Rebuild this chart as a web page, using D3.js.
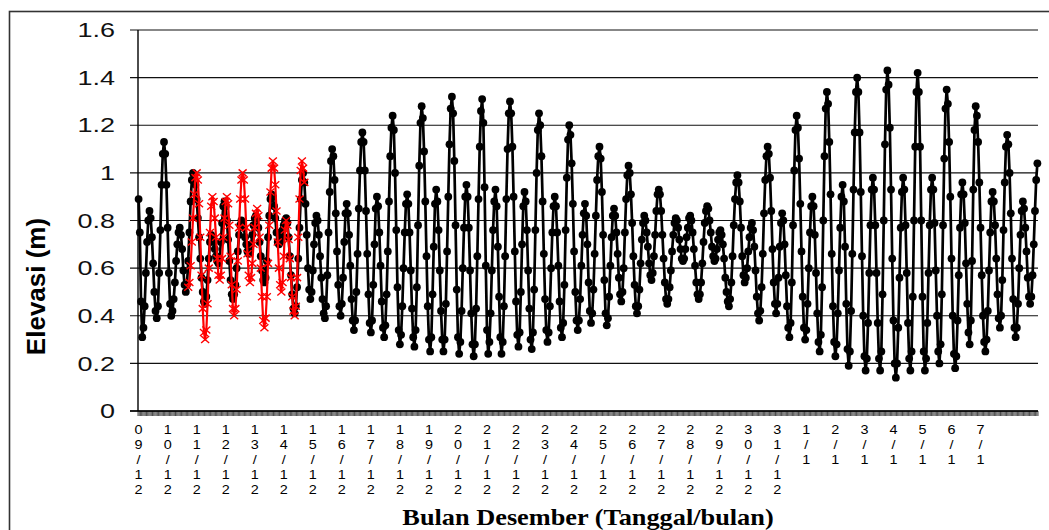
<!DOCTYPE html>
<html>
<head>
<meta charset="utf-8">
<script src="https://cdn.jsdelivr.net/npm/d3@7/dist/d3.min.js"></script>
<style>
    body { margin: 0; background: #fff; }
</style>
</head>
<body>
<div id="chart"></div>
<script>
// elevasi per jam (m), mulai 09/12 jam 00
let elevasi = [
    0.89,0.75,0.46,0.31,0.35,0.44,0.58,0.71,0.80,0.84,0.81,0.73,0.62,0.50,0.42,0.39,0.44,0.58,0.76,0.95,1.08,1.13,1.08,0.95,
    0.77,0.58,0.45,0.40,0.42,0.47,0.54,0.63,0.70,0.75,0.77,0.74,0.68,0.59,0.53,0.50,0.53,0.63,0.75,0.88,0.97,1.00,0.99,0.95,
    0.89,0.81,0.73,0.64,0.56,0.50,0.46,0.45,0.48,0.55,0.64,0.71,0.74,0.73,0.71,0.68,0.65,0.63,0.62,0.64,0.71,0.79,0.86,0.88,
    0.86,0.80,0.72,0.63,0.55,0.49,0.47,0.49,0.53,0.60,0.67,0.74,0.78,0.80,0.79,0.77,0.73,0.70,0.67,0.66,0.67,0.70,0.74,0.78,
    0.81,0.82,0.81,0.77,0.71,0.65,0.59,0.55,0.54,0.56,0.63,0.73,0.82,0.89,0.91,0.90,0.86,0.81,0.75,0.71,0.70,0.71,0.73,0.76,
    0.78,0.80,0.81,0.79,0.73,0.65,0.57,0.49,0.43,0.41,0.44,0.52,0.64,0.77,0.89,0.97,1.00,0.96,0.87,0.74,0.60,0.51,0.47,0.50,
    0.59,0.70,0.79,0.82,0.80,0.74,0.65,0.56,0.47,0.41,0.39,0.44,0.57,0.75,0.92,1.05,1.10,1.07,0.97,0.83,0.67,0.53,0.44,0.40,
    0.45,0.56,0.71,0.83,0.87,0.83,0.74,0.61,0.47,0.38,0.34,0.38,0.50,0.66,0.85,1.01,1.13,1.17,1.13,1.01,0.84,0.66,0.49,0.37,
    0.33,0.38,0.53,0.70,0.85,0.90,0.86,0.75,0.61,0.46,0.35,0.31,0.36,0.49,0.67,0.88,1.07,1.19,1.24,1.18,1.00,0.76,0.52,0.34,
    0.28,0.32,0.44,0.60,0.75,0.87,0.91,0.87,0.75,0.59,0.43,0.31,0.27,0.34,0.52,0.78,1.03,1.21,1.28,1.23,1.09,0.88,0.65,0.44,
    0.30,0.25,0.31,0.49,0.69,0.87,0.93,0.88,0.76,0.59,0.42,0.30,0.25,0.30,0.45,0.67,0.90,1.12,1.27,1.32,1.25,1.05,0.78,0.51,
    0.31,0.24,0.29,0.42,0.60,0.77,0.90,0.95,0.90,0.77,0.59,0.41,0.28,0.23,0.28,0.43,0.65,0.89,1.11,1.26,1.31,1.21,0.94,0.61,
    0.34,0.24,0.29,0.41,0.59,0.76,0.88,0.93,0.86,0.69,0.48,0.31,0.24,0.29,0.44,0.65,0.89,1.10,1.25,1.30,1.25,1.11,0.90,0.67,
    0.46,0.32,0.27,0.33,0.50,0.70,0.86,0.92,0.88,0.76,0.59,0.43,0.30,0.26,0.33,0.51,0.76,1.00,1.18,1.25,1.20,1.07,0.88,0.66,
    0.47,0.34,0.29,0.33,0.44,0.60,0.75,0.86,0.90,0.86,0.75,0.61,0.46,0.35,0.31,0.37,0.53,0.76,0.98,1.14,1.20,1.16,1.04,0.87,
    0.67,0.50,0.38,0.34,0.38,0.47,0.61,0.74,0.83,0.87,0.82,0.70,0.54,0.42,0.37,0.41,0.51,0.66,0.82,0.97,1.07,1.11,1.06,0.92,
    0.74,0.55,0.41,0.36,0.39,0.48,0.61,0.73,0.82,0.85,0.82,0.75,0.66,0.56,0.49,0.46,0.50,0.60,0.75,0.89,0.99,1.03,1.00,0.91,
    0.79,0.65,0.53,0.44,0.41,0.44,0.51,0.62,0.72,0.79,0.82,0.80,0.75,0.69,0.62,0.57,0.55,0.58,0.65,0.74,0.84,0.91,0.93,0.91,
    0.84,0.74,0.64,0.54,0.47,0.45,0.47,0.52,0.59,0.67,0.74,0.79,0.81,0.80,0.77,0.72,0.68,0.64,0.63,0.64,0.68,0.73,0.77,0.81,
    0.82,0.80,0.75,0.68,0.61,0.54,0.49,0.47,0.49,0.54,0.62,0.71,0.79,0.84,0.86,0.85,0.80,0.75,0.69,0.65,0.63,0.64,0.68,0.72,
    0.75,0.76,0.74,0.70,0.64,0.56,0.50,0.46,0.44,0.47,0.54,0.65,0.78,0.89,0.96,0.99,0.96,0.88,0.77,0.65,0.57,0.54,0.56,0.60,
    0.67,0.73,0.77,0.79,0.76,0.69,0.59,0.48,0.41,0.38,0.42,0.52,0.66,0.83,0.97,1.07,1.11,1.08,0.98,0.84,0.68,0.54,0.45,0.41,
    0.45,0.56,0.69,0.79,0.83,0.80,0.70,0.57,0.44,0.35,0.31,0.37,0.54,0.78,1.01,1.18,1.24,1.19,1.06,0.87,0.67,0.48,0.35,0.30,
    0.34,0.45,0.60,0.75,0.86,0.90,0.86,0.74,0.58,0.41,0.29,0.25,0.32,0.52,0.80,1.07,1.27,1.34,1.29,1.13,0.91,0.66,0.44,0.29,
    0.23,0.28,0.41,0.59,0.77,0.90,0.95,0.88,0.69,0.45,0.26,0.19,0.25,0.42,0.66,0.93,1.17,1.34,1.40,1.34,1.17,0.92,0.65,0.40,
    0.23,0.17,0.22,0.37,0.58,0.78,0.93,0.98,0.93,0.78,0.58,0.37,0.22,0.17,0.25,0.49,0.80,1.12,1.35,1.43,1.37,1.19,0.93,0.64,
    0.38,0.20,0.14,0.20,0.35,0.56,0.77,0.92,0.98,0.93,0.78,0.58,0.37,0.22,0.17,0.25,0.48,0.80,1.11,1.34,1.42,1.34,1.11,0.80,
    0.48,0.25,0.17,0.22,0.37,0.58,0.78,0.93,0.98,0.93,0.79,0.59,0.40,0.25,0.20,0.28,0.49,0.78,1.06,1.27,1.35,1.29,1.13,0.90,
    0.64,0.40,0.24,0.18,0.23,0.38,0.57,0.77,0.91,0.96,0.91,0.79,0.62,0.45,0.33,0.28,0.38,0.63,0.93,1.18,1.28,1.24,1.13,0.96,
    0.77,0.57,0.40,0.29,0.25,0.30,0.42,0.59,0.75,0.88,0.92,0.88,0.78,0.64,0.49,0.39,0.35,0.40,0.55,0.76,0.96,1.11,1.16,1.12,
    1.00,0.83,0.64,0.47,0.35,0.31,0.35,0.45,0.60,0.74,0.84,0.88,0.85,0.77,0.67,0.56,0.48,0.45,0.48,0.57,0.70,0.84,0.97,1.04
];

// seri merah (tanda x), mulai jam ke-41
let merahMulai = 41;
let elevasiMerah = [
    0.52,0.54,0.61,0.71,0.81,0.91,0.98,1.00,0.97,0.87,0.73,0.57,0.43,0.33,0.30,0.34,0.45,0.60,0.75,0.86,0.90,0.88,0.81,0.73,
    0.64,0.57,0.55,0.57,0.64,0.73,0.81,0.88,0.90,0.87,0.78,0.65,0.53,0.43,0.40,0.43,0.51,0.63,0.77,0.89,0.97,1.00,0.97,0.89,
    0.77,0.66,0.57,0.54,0.56,0.62,0.70,0.77,0.83,0.85,0.82,0.73,0.60,0.48,0.38,0.35,0.39,0.48,0.62,0.78,0.92,1.02,1.05,1.02,
    0.95,0.84,0.71,0.60,0.53,0.50,0.54,0.65,0.76,0.80,0.78,0.72,0.64,0.56,0.48,0.42,0.40,0.44,0.56,0.73,0.89,1.01,1.05,1.02,
    0.96
];

let tanggal = ["09/12","10/12","11/12","12/12","13/12","14/12","15/12","16/12","17/12","18/12",
    "19/12","20/12","21/12","22/12","23/12","24/12","25/12","26/12","27/12","28/12",
    "29/12","30/12","31/12","1/1","2/1","3/1","4/1","5/1","6/1","7/1"];
let jamPerHari = 24;

let yTicks = [0, 0.2, 0.4, 0.6, 0.8, 1, 1.2, 1.4, 1.6];

let width = 1049, height = 530;
let margin = {top: 30, right: 11, bottom: 119, left: 138};

let svg = d3.select("#chart").append("svg")
    .attr("width", width)
    .attr("height", height)
    .style("display", "block");

svg.append("rect")
    .attr("width", width).attr("height", height)
    .attr("fill", "#fff");

// bingkai luar (terpotong di kanan dan bawah)
svg.append("rect")
    .attr("x", 9.5).attr("y", 11.5)
    .attr("width", 1200).attr("height", 700)
    .attr("fill", "none")
    .attr("stroke", "#333")
    .attr("stroke-width", 1.6);

let x = d3.scaleBand()
    .domain(d3.range(elevasi.length))
    .range([margin.left, width - margin.right]);
let cx = i => x(i) + x.bandwidth() / 2;

let y = d3.scaleLinear()
    .domain([0, 1.6])
    .range([height - margin.bottom, margin.top]);

// gridlines + tick kiri
svg.selectAll(".grid")
    .data(yTicks)
    .enter().append("line")
    .attr("class", "grid")
    .attr("x1", margin.left - 8)
    .attr("x2", width - margin.right)
    .attr("y1", d => y(d))
    .attr("y2", d => y(d))
    .attr("stroke", "#111")
    .attr("stroke-width", 1.1);

svg.selectAll(".ylab")
    .data(yTicks)
    .enter().append("text")
    .attr("class", "ylab")
    .attr("transform", d => `translate(115, ${y(d)}) scale(1.35, 1)`)
    .attr("text-anchor", "end")
    .attr("dy", "0.36em")
    .attr("font-family", "Arial, 'Liberation Sans', sans-serif")
    .attr("font-size", "20px")
    .attr("fill", "#111")
    .text(d => String(d));

// sumbu y
svg.append("line")
    .attr("x1", margin.left).attr("x2", margin.left)
    .attr("y1", y(1.6)).attr("y2", y(0))
    .attr("stroke", "#000")
    .attr("stroke-width", 1.4);

// sumbu x + tick tiap jam
svg.append("line")
    .attr("x1", margin.left - 8).attr("x2", width - margin.right)
    .attr("y1", y(0)).attr("y2", y(0))
    .attr("stroke", "#000")
    .attr("stroke-width", 1.4);

svg.selectAll(".xtick")
    .data(d3.range(elevasi.length + 1))
    .enter().append("line")
    .attr("class", "xtick")
    .attr("x1", d => d < elevasi.length ? x(d) : width - margin.right)
    .attr("x2", d => d < elevasi.length ? x(d) : width - margin.right)
    .attr("y1", y(0))
    .attr("y2", y(0) + 5)
    .attr("stroke", "#000")
    .attr("stroke-width", 0.7);

// label tanggal, huruf disusun ke bawah
let xlab = svg.selectAll(".xlab")
    .data(tanggal)
    .enter().append("g")
    .attr("class", "xlab")
    .attr("transform", (d, i) => `translate(${cx(i * jamPerHari)}, 0) scale(1.2, 1)`);

xlab.selectAll("text")
    .data(d => d.split(""))
    .enter().append("text")
    .attr("x", 0)
    .attr("y", (c, k) => 434.5 + k * 15)
    .attr("text-anchor", "middle")
    .attr("font-family", "Arial, 'Liberation Sans', sans-serif")
    .attr("font-size", "12px")
    .attr("fill", "#000")
    .text(c => c);

// seri hitam
let line = d3.line()
    .x((d, i) => cx(i))
    .y(d => y(d));

svg.append("path")
    .datum(elevasi)
    .attr("d", line)
    .attr("fill", "none")
    .attr("stroke", "#000")
    .attr("stroke-width", 2.7)
    .attr("stroke-linejoin", "round");

svg.selectAll(".dot")
    .data(elevasi)
    .enter().append("circle")
    .attr("class", "dot")
    .attr("cx", (d, i) => cx(i))
    .attr("cy", d => y(d))
    .attr("r", 3.9)
    .attr("fill", "#000");

// seri merah
let lineMerah = d3.line()
    .x((d, i) => cx(i + merahMulai))
    .y(d => y(d));

svg.append("path")
    .datum(elevasiMerah)
    .attr("d", lineMerah)
    .attr("fill", "none")
    .attr("stroke", "#ff0000")
    .attr("stroke-width", 2.2)
    .attr("stroke-linejoin", "round");

svg.selectAll(".cross")
    .data(elevasiMerah)
    .enter().append("path")
    .attr("class", "cross")
    .attr("transform", (d, i) => `translate(${cx(i + merahMulai)}, ${y(d)})`)
    .attr("d", "M-4,-3.5L4,3.5M-4,3.5L4,-3.5")
    .attr("stroke", "#ff0000")
    .attr("stroke-width", 1.4)
    .attr("fill", "none");

// judul sumbu
svg.append("text")
    .attr("transform", "translate(45, 286.5) rotate(-90)")
    .attr("text-anchor", "middle")
    .attr("font-family", "Arial, 'Liberation Sans', sans-serif")
    .attr("font-weight", "bold")
    .attr("font-size", "26px")
    .attr("fill", "#000")
    .text("Elevasi (m)");

svg.append("text")
    .attr("transform", "translate(588, 525) scale(1.17, 1)")
    .attr("text-anchor", "middle")
    .attr("font-family", "'Times New Roman', 'Liberation Serif', serif")
    .attr("font-weight", "bold")
    .attr("font-size", "22.5px")
    .attr("fill", "#000")
    .text("Bulan Desember (Tanggal/bulan)");
</script>
</body>
</html>
